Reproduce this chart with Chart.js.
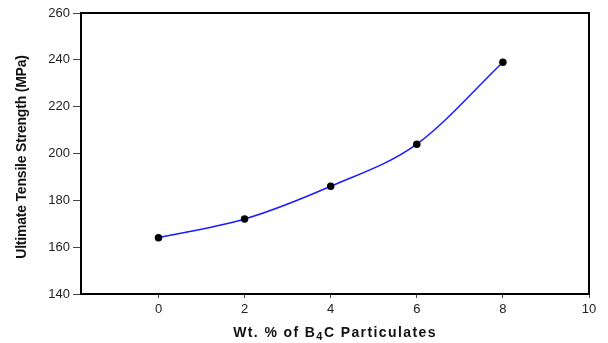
<!DOCTYPE html>
<html>
<head>
<meta charset="utf-8">
<script src="https://cdn.jsdelivr.net/npm/chart.js@4/dist/chart.umd.min.js"></script>
<style>
  html, body { margin: 0; padding: 0; background: #fff; }
  #wrap { width: 608px; height: 343px; }
</style>
</head>
<body>
<div id="wrap"><canvas id="cv" width="608" height="343"></canvas></div>
<script>
// wt. % of B4C and measured UTS
var wtPercent = [0, 2, 4, 6, 8];
var utsValues = [164, 172, 186, 204, 239];
var xTicks = [0, 2, 4, 6, 8, 10];
var yTitle = "Ultimate Tensile Strength (MPa)";

var points = wtPercent.map(function(x, i) { return { x: x, y: utsValues[i] }; });

// box round the plot area
var frame = {
    id: "frame",
    afterDraw: function(chart) {
        var a = chart.chartArea, c = chart.ctx;
        c.save();
        c.strokeStyle = "#000";
        c.lineWidth = 2;
        c.strokeRect(a.left, a.top, a.right - a.left, a.bottom - a.top);
        c.restore();
    }
};

// axis titles (x one needs a subscript 4)
var titles = {
    id: "titles",
    afterDraw: function(chart) {
        var c = chart.ctx, a = chart.chartArea;
        var big = "bold 14px 'Liberation Sans', Arial, sans-serif";
        var small = "bold 11px 'Liberation Sans', Arial, sans-serif";
        var p1 = "Wt. % of B", p2 = "4", p3 = "C Particulates";
        c.save();
        c.fillStyle = "#111";
        c.textBaseline = "alphabetic";
        c.letterSpacing = "1.4px";
        c.font = big; var w1 = c.measureText(p1).width, w3 = c.measureText(p3).width;
        c.font = small; var w2 = c.measureText(p2).width;
        var x = (a.left + a.right) / 2 - (w1 + w2 + w3) / 2, y = 337;
        c.font = big; c.fillText(p1, x, y);
        c.font = small; c.fillText(p2, x + w1, y + 3);
        c.font = big; c.fillText(p3, x + w1 + w2, y);
        c.restore();

        c.save();
        c.fillStyle = "#111";
        c.font = "bold 14px 'Liberation Sans', Arial, sans-serif";
        c.letterSpacing = "-0.2px";
        c.textAlign = "center";
        c.textBaseline = "alphabetic";
        c.translate(26, 157);
        c.rotate(-Math.PI / 2);
        c.fillText(yTitle, 0, 0);
        c.restore();
    }
};

var tickFont = { size: 13, family: "'Liberation Sans', Arial, sans-serif" };

new Chart(document.getElementById("cv"), {
    type: "line",
    data: {
        datasets: [{
            data: points,
            borderColor: "#1a1aff",
            borderWidth: 1.5,
            pointBackgroundColor: "#000",
            pointBorderColor: "#000",
            pointRadius: 3,
            cubicInterpolationMode: "monotone",
            fill: false
        }]
    },
    options: {
        responsive: false,
        animation: false,
        layout: { padding: { top: 13, right: 19, left: 0, bottom: 0 } },
        plugins: { legend: { display: false }, tooltip: { enabled: false } },
        scales: {
            x: {
                type: "linear",
                min: -1.8,
                max: 10,
                afterBuildTicks: function(s) {
                    s.ticks = xTicks.map(function(v) { return { value: v }; });
                },
                afterFit: function(s) { s.height = 49; },
                grid: { drawOnChartArea: false, tickLength: 4, color: "#444" },
                border: { display: false },
                ticks: { color: "#222", padding: 4, font: tickFont }
            },
            y: {
                min: 140,
                max: 260,
                afterFit: function(s) { s.width = 81; },
                grid: { drawOnChartArea: false, tickLength: 8, color: "#444" },
                border: { display: false },
                ticks: { stepSize: 20, color: "#222", padding: 3, font: tickFont }
            }
        }
    },
    plugins: [frame, titles]
});
</script>
</body>
</html>
